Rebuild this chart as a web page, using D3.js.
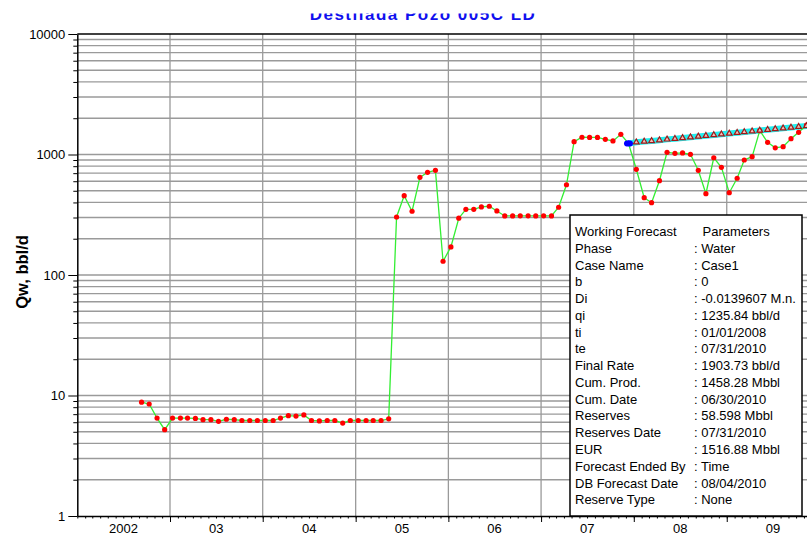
<!DOCTYPE html>
<html>
<head>
<meta charset="utf-8">
<script src="https://cdn.jsdelivr.net/npm/d3@7"></script>
<style>
	body { margin: 0; background: #fff; }
	svg { display: block; font-family: "Liberation Sans", Arial, sans-serif; }
</style>
</head>
<body>
<svg></svg>
<script>
const svgWidth = 807;
const svgHeight = 536;
const plotLeft = 77.3;
const plotRight = 807;
const plotTop = 34;
const plotBottom = 516;

const chartTitle = "Destilada Pozo 005C LD";
const yLabel = "Qw, bbl/d";

// monthly water rate, bbl/d (first month given with each year)
const rate2002 = [8.8, 8.5, 6.5, 5.2];                                          // Sep - Dec
const rate2003 = [6.5, 6.5, 6.5, 6.45, 6.3, 6.3, 6.1, 6.35, 6.3, 6.2, 6.2, 6.2];
const rate2004 = [6.2, 6.2, 6.5, 6.8, 6.75, 6.9, 6.2, 6.15, 6.2, 6.2, 5.9, 6.2];
const rate2005 = [6.2, 6.2, 6.2, 6.2, 6.4, 303, 455, 338, 647, 711, 739, 130];
const rate2006 = [171, 296, 351, 351, 367, 372, 340, 309, 309, 310, 310, 309];
const rate2007 = [310, 309, 365, 561, 1277, 1390, 1385, 1385, 1337, 1295, 1471, 1239];
const rate2008 = [754, 438, 398, 606, 1043, 1023, 1030, 1004, 739, 473, 940, 783];
const rate2009 = [482, 635, 900, 959, 1577, 1262, 1137, 1161, 1352, 1528, 1750];  // Jan - Nov
const rateYears = [[2002, 8, rate2002], [2003, 0, rate2003], [2004, 0, rate2004], [2005, 0, rate2005],
				[2006, 0, rate2006], [2007, 0, rate2007], [2008, 0, rate2008], [2009, 0, rate2009]];

// working forecast, monthly from Dec 2007
const forecastRate = [1236, 1262, 1280, 1297, 1315, 1335, 1352, 1372, 1392, 1412, 1432, 1452,
				1473, 1494, 1515, 1537, 1559, 1581, 1604, 1627, 1650, 1674, 1698, 1722, 1747];

const yearLabels = ["2002", "03", "04", "05", "06", "07", "08", "09"];
const yTickValues = [1, 10, 100, 1000, 10000];

const paramNames = ["Phase", "Case Name", "b", "Di", "qi", "ti", "te", "Final Rate", "Cum. Prod.",
				"Cum. Date", "Reserves", "Reserves Date", "EUR", "Forecast Ended By", "DB Forecast Date", "Reserve Type"];
const paramValues = ["Water", "Case1", "0", "-0.0139607 M.n.", "1235.84 bbl/d", "01/01/2008", "07/31/2010",
				"1903.73 bbl/d", "1458.28 Mbbl", "06/30/2010", "58.598 Mbbl", "07/31/2010", "1516.88 Mbbl",
				"Time", "08/04/2010", "None"];

const production = [];
rateYears.forEach(([yr, m0, arr]) => {
	arr.forEach((v, i) => production.push({ date: new Date(yr, m0 + i, 11), rate: v }));
});
const forecast = forecastRate.map((v, i) => ({ date: new Date(2007, 11 + i, 11), rate: v }));

const svg = d3.select("svg")
				.attr("width", svgWidth)
				.attr("height", svgHeight);

let xScale = d3.scaleTime()
				.domain([new Date(2002, 0, 1), new Date(2009, 10, 13)])
				.range([plotLeft, plotRight]);
let yScale = d3.scaleLog()
				.domain([1, 10000])
				.range([plotBottom, plotTop]);

// Title (top of it is hidden above the frame)
svg.append("defs").append("clipPath")
	.attr("id", "titleClip")
	.append("rect")
		.attr("x", 0).attr("y", 13.5).attr("width", svgWidth).attr("height", 20);
svg
	.append("text")
	.text(chartTitle)
	.attr("clip-path", "url(#titleClip)")
	.attr("x", 423)
	.attr("y", 20)
	.attr("font-size", "17px")
	.attr("font-weight", "bold")
	.attr("letter-spacing", "1.5px")
	.attr("fill", "#1010ee")
	.attr("text-anchor", "middle");

// Grid
let minorValues = [];
for (let d = 1; d < 10000; d *= 10) {
	for (let k = 2; k <= 9; k++) minorValues.push(d * k);
}
let gridValues = minorValues.concat([10, 100, 1000]);

svg
	.append("g")
	.selectAll("line")
	.data(gridValues)
	.enter()
	.append("line")
		.attr("x1", plotLeft)
		.attr("x2", plotRight)
		.attr("y1", d => yScale(d))
		.attr("y2", d => yScale(d))
		.attr("stroke", "#9a9a9a")
		.attr("stroke-width", 1.3);

let yearTicks = d3.timeYear.range(new Date(2003, 0, 1), new Date(2010, 0, 1));
svg
	.append("g")
	.selectAll("line")
	.data(yearTicks)
	.enter()
	.append("line")
		.attr("x1", d => xScale(d))
		.attr("x2", d => xScale(d))
		.attr("y1", plotTop)
		.attr("y2", plotBottom)
		.attr("stroke", "#9a9a9a")
		.attr("stroke-width", 1.3);

// top frame
svg
	.append("line")
	.attr("x1", plotLeft).attr("x2", plotRight)
	.attr("y1", plotTop).attr("y2", plotTop)
	.attr("stroke", "#000")
	.attr("stroke-width", 1.5);

// Axes
let yAxis = d3.axisLeft(yScale)
				.tickValues(yTickValues)
				.tickFormat(d3.format("d"))
				.tickSize(9)
				.tickSizeOuter(0);
let gy = svg
	.append("g")
	.attr("transform", `translate (${plotLeft}, 0)`)
	.call(yAxis);
gy.select(".domain").attr("stroke-width", 1.5);
gy.selectAll("text").attr("font-size", "13px").attr("fill", "#000").attr("x", -12);

let yMinor = d3.axisLeft(yScale)
				.tickValues(minorValues)
				.tickFormat("")
				.tickSize(4)
				.tickSizeOuter(0);
svg
	.append("g")
	.attr("transform", `translate (${plotLeft}, 0)`)
	.call(yMinor)
	.select(".domain").remove();

let xMinor = d3.axisBottom(xScale)
				.ticks(d3.timeMonth.every(1))
				.tickFormat("")
				.tickSize(2.5)
				.tickSizeOuter(0);
let gx = svg
	.append("g")
	.attr("transform", `translate (0, ${plotBottom})`)
	.call(xMinor);
gx.select(".domain").attr("stroke-width", 1.5);

let xMajor = d3.axisBottom(xScale)
				.tickValues(yearTicks)
				.tickFormat("")
				.tickSize(6)
				.tickSizeOuter(0);
svg
	.append("g")
	.attr("transform", `translate (0, ${plotBottom})`)
	.call(xMajor)
	.select(".domain").remove();

// year labels, centred in each year
svg
	.append("g")
	.selectAll("text")
	.data(yearLabels)
	.enter()
	.append("text")
		.text(d => d)
		.attr("x", (d, i) => xScale(new Date(2002 + i, 6, 2)))
		.attr("y", 533)
		.attr("font-size", "13px")
		.attr("text-anchor", "middle");

// Y axis label
svg
	.append("text")
	.text(yLabel)
	.attr("transform", "rotate(-90)")
	.attr("x", -272)
	.attr("y", 28)
	.attr("font-size", "16.5px")
	.attr("font-weight", "bold")
	.attr("text-anchor", "middle");

// Forecast
let line = d3.line()
				.x(d => xScale(d.date))
				.y(d => yScale(d.rate));

svg
	.append("path")
	.datum(forecast)
	.attr("d", line)
	.attr("fill", "none")
	.attr("stroke", "#22eeee")
	.attr("stroke-width", 6);

// Production
svg
	.append("path")
	.datum(production)
	.attr("d", line)
	.attr("fill", "none")
	.attr("stroke", "#33ee33")
	.attr("stroke-width", 1.3);

svg
	.append("g")
	.selectAll("circle")
	.data(production)
	.enter()
	.append("circle")
		.attr("cx", d => xScale(d.date))
		.attr("cy", d => yScale(d.rate))
		.attr("r", 2.6)
		.attr("fill", "#ff0000");

svg
	.append("g")
	.selectAll("path")
	.data(forecast.slice(1))
	.enter()
	.append("path")
		.attr("d", d3.symbol(d3.symbolTriangle, 14))
		.attr("transform", d => `translate (${xScale(d.date)}, ${yScale(d.rate)})`)
		.attr("fill", "#f2c0b8")
		.attr("stroke", "#a01818")
		.attr("stroke-width", 1.2);

svg
	.append("ellipse")
	.attr("cx", xScale(forecast[0].date))
	.attr("cy", yScale(forecast[0].rate))
	.attr("rx", 4.5)
	.attr("ry", 3.2)
	.attr("fill", "#0000ff");

// Parameters box
let box = svg.append("g");
box
	.append("rect")
	.attr("x", 570)
	.attr("y", 215)
	.attr("width", 232)
	.attr("height", 301)
	.attr("fill", "#fff")
	.attr("stroke", "#000")
	.attr("stroke-width", 1.5);

let rowHeight = 16.77;
box.append("text").text("Working Forecast")
	.attr("x", 575).attr("y", 236).attr("font-size", "13px");
box.append("text").text("Parameters")
	.attr("x", 702.5).attr("y", 236).attr("font-size", "13px");

box
	.append("g")
	.selectAll("text")
	.data(paramNames)
	.enter()
	.append("text")
		.text(d => d)
		.attr("x", 575)
		.attr("y", (d, i) => 236 + (i + 1) * rowHeight)
		.attr("font-size", "13px");

box
	.append("g")
	.selectAll("text")
	.data(paramValues)
	.enter()
	.append("text")
		.text(d => ": " + d)
		.attr("x", 694)
		.attr("y", (d, i) => 236 + (i + 1) * rowHeight)
		.attr("font-size", "13px");
</script>
</body>
</html>
